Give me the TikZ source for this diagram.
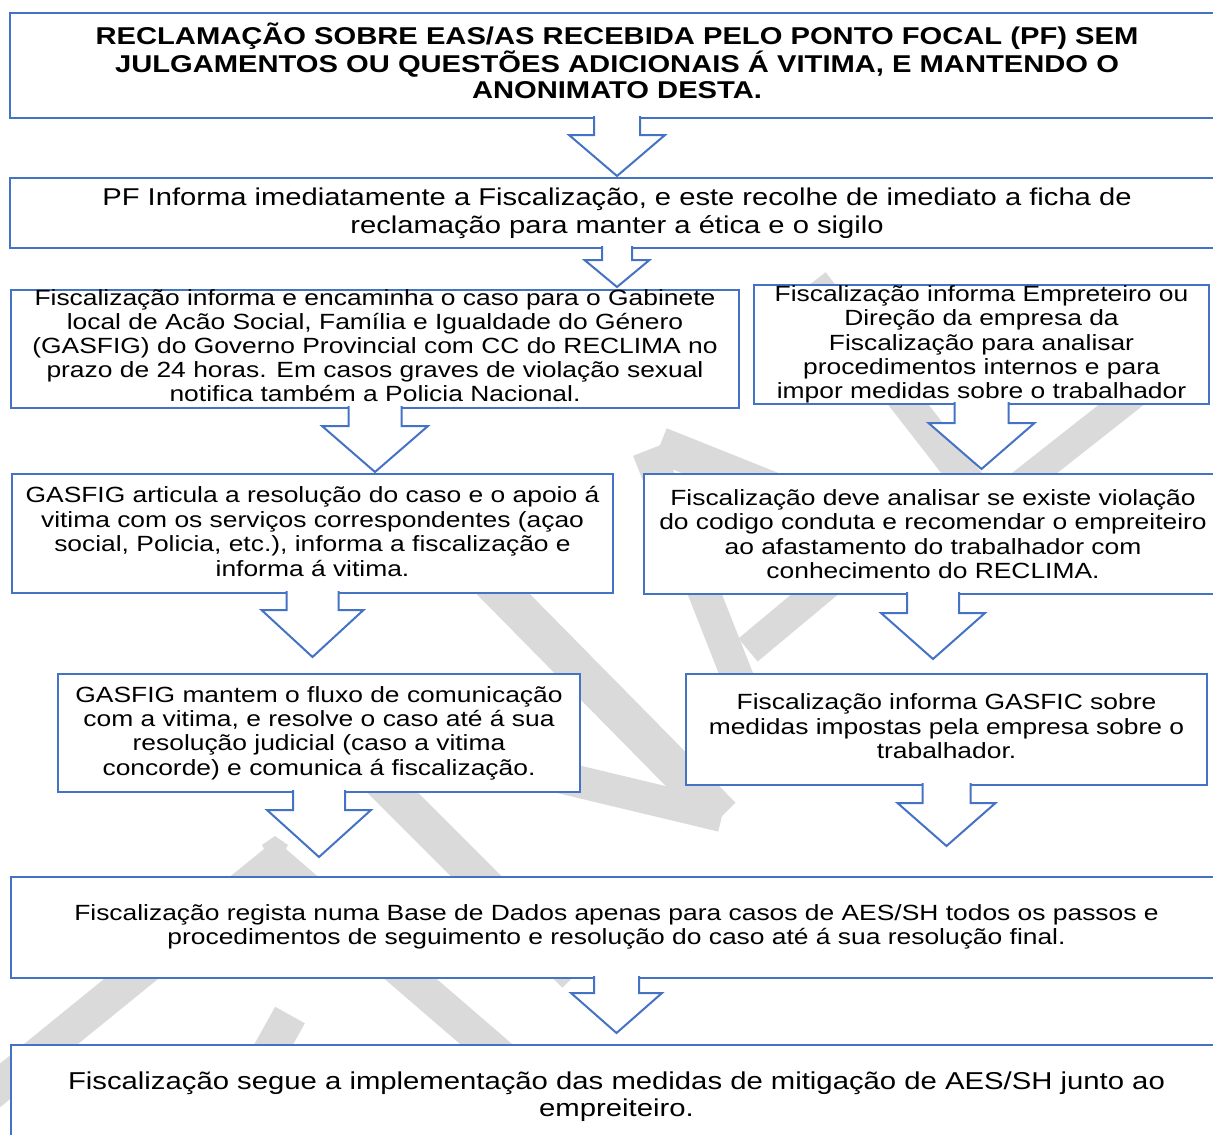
\documentclass[tikz,border=0pt]{standalone}
\usepackage{fontspec}
\setmainfont{Liberation Sans}[FakeStretch=1.2]
\usetikzlibrary{calc}
\definecolor{boxblue}{RGB}{68,114,196}
\definecolor{wmgray}{RGB}{218,218,218}

% block arrow from the bottom of one box towards the top of the next
\newcommand{\flowarrow}[6]{%
  \filldraw[blockarrow] let \p1=(#1.south), \p2=(#2.north) in
    (\x1-#3pt,\y1+2pt) -- (\x1-#3pt,\y1-#5pt) -- (\x1-#4pt,\y1-#5pt) -- (\x1,\y2+#6pt)
    -- (\x1+#4pt,\y1-#5pt) -- (\x1+#3pt,\y1-#5pt) -- (\x1+#3pt,\y1+2pt);
}

\begin{document}
\begin{tikzpicture}[x=1pt, y=-1pt,
    box/.style={rectangle, draw=boxblue, line width=2.6pt, fill=white, inner sep=0pt,
      outer sep=0pt, anchor=north west},
    txt/.style={align=center, inner sep=0pt},
    bigtext/.style={txt, font=\fontsize{24.4}{27}\selectfont},
    smalltext/.style={txt, font=\fontsize{22}{24.4}\selectfont},
    blockarrow/.style={draw=boxblue, line width=2pt, fill=white, line join=miter},
    wm/.style={draw=wmgray, line cap=butt}
  ]
  \useasboundingbox (0,0) rectangle (1213,1135);

  % watermark
  \draw[wm, line width=32pt] (813,282) -- (998,520);
  \draw[wm, line width=28pt] (1140,390) -- (975,520);
  \draw[wm, line width=36pt] (660,445) -- (900,541);
  \draw[wm, line width=32pt] (648,450) -- (770,760);
  \draw[wm, line width=30pt] (748,650) -- (880,540);
  \draw[wm, line width=32pt] (250,703) -- (722,816);
  \draw[wm, line width=38pt] (450,540) -- (722,816);
  \draw[wm, line width=34pt] (-141,1200) -- (275,862);
  \draw[wm, line width=34pt] (275,862) -- (667,1200);
  \fill[wmgray] (262,845) -- (275,836) -- (288,845) -- (275,870) -- cycle;
  \draw[wm, line width=36pt] (340,740) -- (575,975);
  \draw[wm, line width=34pt] (290,1015) -- (215,1150);

  % boxes
  \node[box, minimum width=1214pt, minimum height=105pt] (b1) at (10,13) {};
  \node[box, minimum width=1214pt, minimum height=70pt] (b2) at (10,178) {};
  \node[box, minimum width=728pt, minimum height=118pt] (b3l) at (11,290) {};
  \node[box, minimum width=455pt, minimum height=119pt] (b3r) at (754,285) {};
  \node[box, minimum width=601pt, minimum height=119pt] (b4l) at (12,474) {};
  \node[box, minimum width=578pt, minimum height=120pt] (b4r) at (644,474) {};
  \node[box, minimum width=522pt, minimum height=118pt] (b5l) at (58,674) {};
  \node[box, minimum width=521pt, minimum height=111pt] (b5r) at (686,674) {};
  \node[box, minimum width=1211pt, minimum height=101pt] (b6) at (11,877) {};
  \node[box, minimum width=1211pt, minimum height=110pt] (b7) at (11,1045) {};

  % texts
  \node[txt, font={\fontsize{24.3}{26.5}\selectfont\bfseries}] (t1) at ([yshift=4.5pt]b1.center)
    {RECLAMAÇÃO SOBRE EAS/AS RECEBIDA PELO PONTO FOCAL (PF) SEM\\
     JULGAMENTOS OU QUESTÕES ADICIONAIS Á VITIMA, E MANTENDO O\\
     ANONIMATO DESTA.};
  \node[txt, font={\fontsize{24.3}{28}\selectfont}] (t2) at (b2.center)
    {PF Informa imediatamente a Fiscalização, e este recolhe de imediato a ficha de\\
     reclamação para manter a ética e o sigilo};
  \node[txt, font={\fontsize{22}{24}\selectfont}] (t3l) at ([yshift=3pt]b3l.center)
    {Fiscalização informa e encaminha o caso para o Gabinete\\
     local de Acão Social, Família e Igualdade do Género\\
     (GASFIG) do Governo Provincial com CC do RECLIMA no\\
     prazo de 24 horas. Em casos graves de violação sexual\\
     notifica também a Policia Nacional.};
  \node[smalltext] (t3r) at (b3r.center)
    {Fiscalização informa Empreteiro ou\\
     Direção da empresa da\\
     Fiscalização para analisar\\
     procedimentos internos e para\\
     impor medidas sobre o trabalhador};
  \node[smalltext] (t4l) at ([yshift=2pt]b4l.center)
    {GASFIG articula a resolução do caso e o apoio á\\
     vitima com os serviços correspondentes (açao\\
     social, Policia, etc.), informa a fiscalização e\\
     informa á vitima.};
  \node[smalltext] (t4r) at (b4r.center)
    {Fiscalização deve analisar se existe violação\\
     do codigo conduta e recomendar o empreiteiro\\
     ao afastamento do trabalhador com\\
     conhecimento do RECLIMA.};
  \node[smalltext] (t5l) at (b5l.center)
    {GASFIG mantem o fluxo de comunicação\\
     com a vitima, e resolve o caso até á sua\\
     resolução judicial (caso a vitima\\
     concorde) e comunica á fiscalização.};
  \node[smalltext] (t5r) at ([yshift=3pt]b5r.center)
    {Fiscalização informa GASFIC sobre\\
     medidas impostas pela empresa sobre o\\
     trabalhador.};
  \node[smalltext] (t6) at ([yshift=0.5pt]b6.center)
    {Fiscalização regista numa Base de Dados apenas para casos de AES/SH todos os passos e\\
     procedimentos de seguimento e resolução do caso até á sua resolução final.};
  \node[bigtext] (t7) at ([yshift=3.5pt]b7.center)
    {Fiscalização segue a implementação das medidas de mitigação de AES/SH junto ao\\
     empreiteiro.};

  % arrows
  \flowarrow{b1}{b2}{23}{48}{17}{2}
  \flowarrow{b2}{b3l}{15}{32.5}{12}{3}
  \flowarrow{b3l}{b4l}{26.5}{53}{18}{2}
  \flowarrow{b3r}{b4r}{27}{53}{19}{5}
  \flowarrow{b4l}{b5l}{26}{51}{17}{17}
  \flowarrow{b4r}{b5r}{26}{52}{19}{15}
  \flowarrow{b5l}{b6}{26}{52}{18}{20}
  \flowarrow{b5r}{b6}{24}{49}{18}{31}
  \flowarrow{b6}{b7}{22.5}{45.5}{15}{12}
\end{tikzpicture}
\end{document}
